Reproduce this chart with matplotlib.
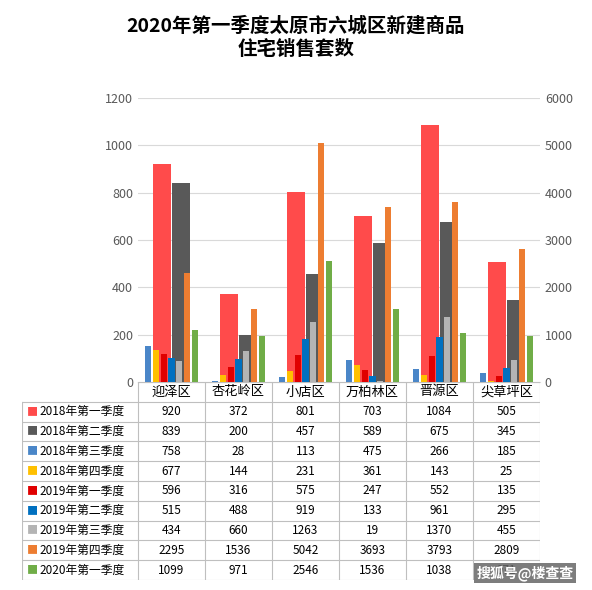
import matplotlib
matplotlib.use("Agg")
import matplotlib.pyplot as plt
import numpy as np

plt.rcParams['font.family'] = ['Noto Sans CJK SC', 'DejaVu Sans']

districts = ["迎泽区", "杏花岭区", "小店区", "万柏林区", "晋源区", "尖草坪区"]
series_names = ["2018年第一季度", "2018年第二季度", "2018年第三季度", "2018年第四季度",
                "2019年第一季度", "2019年第二季度", "2019年第三季度", "2019年第四季度", "2020年第一季度"]
values = {
    "2018年第一季度": [920, 372, 801, 703, 1084, 505],
    "2018年第二季度": [839, 200, 457, 589, 675, 345],
    "2018年第三季度": [758, 28, 113, 475, 266, 185],
    "2018年第四季度": [677, 144, 231, 361, 143, 25],
    "2019年第一季度": [596, 316, 575, 247, 552, 135],
    "2019年第二季度": [515, 488, 919, 133, 961, 295],
    "2019年第三季度": [434, 660, 1263, 19, 1370, 455],
    "2019年第四季度": [2295, 1536, 5042, 3693, 3793, 2809],
    "2020年第一季度": [1099, 971, 2546, 1536, 1038, 971],
}
colors = {
    "2018年第一季度": "#FF4B4B", "2018年第二季度": "#595959", "2018年第三季度": "#4A86C8",
    "2018年第四季度": "#FFC000", "2019年第一季度": "#E00000", "2019年第二季度": "#0070C0",
    "2019年第三季度": "#B4B4B4", "2019年第四季度": "#ED7D31", "2020年第一季度": "#70AD47",
}
primary = ["2018年第一季度", "2018年第二季度"]
secondary = ["2018年第三季度", "2018年第四季度", "2019年第一季度", "2019年第二季度",
             "2019年第三季度", "2019年第四季度", "2020年第一季度"]

W, H = 592, 590
fig = plt.figure(figsize=(W/100, H/100), dpi=100)
ax = fig.add_axes([138/W, 1-382/H, 402/W, 284/H])
ax2 = ax.twinx()
x = np.arange(len(districts))
for i, s in enumerate(primary):
    ax.bar(x + (i - 0.5) * 0.28, values[s], width=0.27, color=colors[s], zorder=3)
step = 0.117
for i, s in enumerate(secondary):
    ax2.bar(x + (i - 3) * step, values[s], width=0.09, color=colors[s], zorder=3)
ax.set_ylim(0, 1200); ax2.set_ylim(0, 6000)
ax.set_yticks(range(0, 1201, 200)); ax2.set_yticks(range(0, 6001, 1000))
ax.set_xlim(-0.5, 5.5)
ax.set_xticks([])
ax.grid(axis='y', color='#D9D9D9', lw=0.8, zorder=0)
for a in (ax, ax2):
    for sp in a.spines.values():
        sp.set_visible(False)
    a.tick_params(length=0, labelsize=9, colors='#595959')
ax.spines['bottom'].set_visible(True); ax.spines['bottom'].set_color('#D9D9D9')

fig.text(0.5, 1-38/H, "2020年第一季度太原市六城区新建商品\n住宅销售套数", ha='center', va='center',
         fontsize=14, fontweight='bold', linespacing=1.3)

tax = fig.add_axes([22/W, 1-580/H, 518/W, 198/H])
tax.set_xlim(0, 518); tax.set_ylim(198, 0); tax.axis('off')
nrows = 10
rh = 198 / nrows
colx = [0, 116] + [116 + 67*(i+1) for i in range(6)]
lc = '#BFBFBF'
for r in range(nrows + 1):
    y = r * rh
    x0 = 0 if r >= 1 else 116
    tax.plot([x0, 518], [y, y], color=lc, lw=0.8)
for i, cx in enumerate(colx):
    tax.plot([cx, cx], [rh if i == 0 else 0, 198], color=lc, lw=0.8)
for j, d in enumerate(districts):
    tax.text(116 + 67*j + 33.5, rh/2, d, ha='center', va='center', fontsize=9.5)
for r, s in enumerate(series_names):
    y = (r + 1.5) * rh
    tax.text(5, y, "■", color=colors[s], ha='left', va='center', fontsize=8)
    tax.text(17, y, s, ha='left', va='center', fontsize=8.5)
    for j in range(6):
        tax.text(116 + 67*j + 33.5, y, str(values[s][j]), ha='center', va='center', fontsize=8.5)

fig.text(525/W, 1-573/H, "搜狐号@楼查查", ha='center', va='center', fontsize=10, color='white',
         fontweight='bold', bbox=dict(facecolor='#666666', alpha=0.85, edgecolor='none', pad=1.5))
fig.savefig("out.png", dpi=100)
